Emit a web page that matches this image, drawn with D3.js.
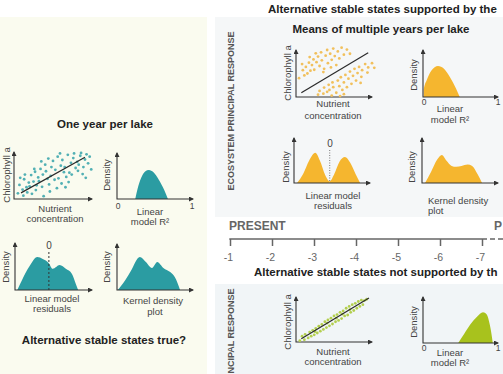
<!DOCTYPE html>
<html>
<head>
<meta charset="utf-8">
<script src="https://cdn.jsdelivr.net/npm/d3@7"></script>
<style>
  body { margin: 0; background: #fff; }
  svg { display: block; font-family: "Liberation Sans", Arial, sans-serif; }
</style>
</head>
<body>
<svg id="chart" width="503" height="374"></svg>
<script>
//Dati letti a occhio dalla figura (unita' relative agli assi, 0-1)
const oneYearPts = [
  [0.05,0.12],[0.07,0.30],[0.11,0.20],[0.13,0.42],[0.12,0.07],[0.16,0.25],[0.19,0.35],[0.17,0.14],
  [0.22,0.51],[0.20,0.27],[0.25,0.37],[0.23,0.11],[0.27,0.58],[0.29,0.29],[0.31,0.46],[0.28,0.19],
  [0.34,0.64],[0.32,0.38],[0.37,0.52],[0.38,0.06],[0.36,0.26],[0.40,0.73],[0.43,0.43],[0.41,0.59],
  [0.45,0.31],[0.46,0.16],[0.48,0.68],[0.47,0.49],[0.52,0.41],[0.50,0.81],[0.55,0.23],[0.53,0.62],
  [0.57,0.44],[0.56,0.90],[0.60,0.71],[0.61,0.33],[0.64,0.57],[0.62,0.83],[0.67,0.47],[0.65,0.68],
  [0.69,0.94],[0.70,0.36],[0.73,0.77],[0.71,0.56],[0.76,0.87],[0.74,0.52],[0.79,0.66],[0.77,0.97],
  [0.81,0.79],[0.82,0.60],[0.85,0.92],[0.83,0.73],[0.88,0.53],[0.86,0.98],[0.91,0.84],[0.89,0.68],
  [0.93,0.95],[0.95,0.76],[0.97,0.90],[0.99,0.63],[0.59,0.97],[0.44,0.86],[0.26,0.64],[0.14,0.52],
  [0.08,0.45],[0.35,0.80],[0.66,0.25],[0.92,0.45]
];
const oneYearLine = [[0.09,0.13],[0.91,0.89]];
const oneYearR2 = [[0.24,0],[0.27,0.22],[0.32,0.47],[0.37,0.6],[0.42,0.63],[0.48,0.58],[0.55,0.42],[0.62,0.2],[0.67,0]];
const oneYearResid = [[0.03,0],[0.09,0.21],[0.19,0.51],[0.29,0.70],[0.36,0.66],[0.44,0.57],[0.49,0.45],
  [0.58,0.53],[0.66,0.45],[0.74,0.34],[0.79,0.13],[0.82,0]];
const oneYearKde = [[0.01,0],[0.11,0.22],[0.18,0.41],[0.30,0.72],[0.38,0.61],[0.46,0.48],[0.53,0.61],
  [0.61,0.48],[0.70,0.39],[0.76,0.28],[0.83,0]];
const oneYearZero = 0.44;

const meansHigh = [
  [0.04,0.40],[0.09,0.57],[0.11,0.46],[0.13,0.64],[0.15,0.50],[0.17,0.73],[0.19,0.56],[0.21,0.68],
  [0.23,0.80],[0.24,0.58],[0.27,0.74],[0.29,0.86],[0.31,0.66],[0.33,0.95],[0.34,0.78],[0.37,0.60],
  [0.39,0.88],[0.41,1.00],[0.42,0.72],[0.45,0.92],[0.47,0.79],[0.49,1.03],[0.51,0.87],[0.53,0.68],
  [0.55,0.97],[0.57,0.82],[0.60,1.05],[0.63,0.90],[0.67,1.01],[0.71,0.92],[0.26,0.93],[0.36,0.53],
  [0.46,0.63],[0.18,0.85],[0.08,0.70]
];
const meansLow = [
  [0.29,0.05],[0.31,0.13],[0.36,0.07],[0.37,0.20],[0.41,0.11],[0.43,0.26],[0.44,0.15],[0.48,0.31],
  [0.49,0.21],[0.53,0.09],[0.55,0.35],[0.57,0.23],[0.59,0.42],[0.61,0.15],[0.63,0.31],[0.65,0.47],
  [0.67,0.21],[0.69,0.39],[0.71,0.54],[0.73,0.28],[0.75,0.45],[0.77,0.60],[0.79,0.35],[0.81,0.51],
  [0.83,0.64],[0.86,0.43],[0.87,0.57],[0.91,0.70],[0.94,0.52],[0.95,0.63],[1.00,0.72],[1.03,0.62],
  [0.47,0.03],[0.63,0.06],[0.85,0.30],[0.58,0.02]
];
const meansLine = [[0.07,0.09],[0.95,0.94]];
const meansR2 = [[0.01,0],[0.01,0.16],[0.05,0.36],[0.11,0.56],[0.2,0.66],[0.28,0.6],[0.36,0.42],[0.44,0.18],[0.49,0]];
const meansResid = [[0.04,0],[0.12,0.2],[0.2,0.5],[0.28,0.67],[0.34,0.5],[0.41,0.18],[0.47,0.04],
  [0.53,0.2],[0.6,0.48],[0.67,0.58],[0.74,0.45],[0.81,0.2],[0.87,0]];
const meansKde = [[0.04,0],[0.12,0.25],[0.2,0.52],[0.26,0.62],[0.32,0.5],[0.39,0.38],[0.45,0.36],
  [0.52,0.38],[0.6,0.41],[0.66,0.38],[0.73,0.2],[0.79,0]];
const meansZero = 0.47;

const multiPts = [
  [0.05,0.03],[0.08,0.13],[0.11,0.05],[0.12,0.17],[0.16,0.09],[0.18,0.22],[0.20,0.13],[0.22,0.26],
  [0.24,0.16],[0.26,0.30],[0.28,0.20],[0.30,0.35],[0.32,0.24],[0.34,0.39],[0.36,0.28],[0.38,0.45],
  [0.40,0.32],[0.42,0.49],[0.44,0.36],[0.46,0.53],[0.48,0.40],[0.50,0.58],[0.52,0.45],[0.54,0.61],
  [0.56,0.48],[0.58,0.66],[0.60,0.52],[0.62,0.69],[0.64,0.58],[0.66,0.75],[0.68,0.60],[0.70,0.79],
  [0.72,0.66],[0.74,0.83],[0.76,0.70],[0.78,0.86],[0.80,0.75],[0.82,0.90],[0.84,0.79],[0.86,0.93],
  [0.88,0.83],[0.90,0.92],[0.93,0.95],[0.41,0.42],[0.61,0.62],[0.25,0.23],[0.53,0.53],[0.71,0.72]
];
const multiLine = [[0.07,0.07],[0.96,0.98]];
const multiR2 = [[0.47,0],[0.55,0.2],[0.63,0.4],[0.72,0.57],[0.8,0.67],[0.85,0.62],[0.89,0.4],[0.92,0.12],[0.93,0]];

const timeTicks = [-1, -2, -3, -4, -5, -6, -7];

const TEAL = "#2b9ca2", ORANGE = "#f5b62f", GREEN = "#a8c21d";

const svg = d3.select("#chart");

//sfondi dei pannelli
svg.append("rect").attr("x", 0).attr("y", 17).attr("width", 207).attr("height", 357).attr("fill", "#fafbef");
svg.append("rect").attr("x", 215).attr("y", 17).attr("width", 288).attr("height", 200).attr("fill", "#f5f7f8");
svg.append("rect").attr("x", 215).attr("y", 284).attr("width", 288).attr("height", 90).attr("fill", "#f1f5f7");

svg.append("defs").append("marker")
  .attr("id", "arr")
  .attr("viewBox", "0 0 10 10")
  .attr("refX", 8).attr("refY", 5)
  .attr("markerWidth", 5).attr("markerHeight", 5)
  .attr("markerUnits", "userSpaceOnUse")
  .attr("orient", "auto-start-reverse")
  .append("path").attr("d", "M0,0L10,5L0,10z").attr("fill", "#333");

function label(x, y, txt, opts = {}) {
  const t = svg.append("text")
    .attr("x", x).attr("y", y)
    .attr("text-anchor", opts.anchor || "middle")
    .attr("font-size", (opts.size || 9.5) + "px")
    .attr("font-weight", opts.bold ? "bold" : "normal")
    .attr("fill", opts.fill || "#444")
    .text(txt);
  if (opts.rot) t.attr("transform", `rotate(-90, ${x}, ${y})`);
  return t;
}

function frame(ox, oy, w, h) {
  const x = d3.scaleLinear().domain([0, 1]).range([ox, ox + w]);
  const y = d3.scaleLinear().domain([0, 1]).range([oy, oy - h]);
  const g = svg.append("g");
  g.append("path")
    .attr("d", `M${ox},${oy - h}V${oy}H${ox + w}`)
    .attr("fill", "none").attr("stroke", "#333").attr("stroke-width", 1.1)
    .attr("marker-start", "url(#arr)").attr("marker-end", "url(#arr)");
  return { x, y, g, oy };
}

function density(f, curve, color) {
  const area = d3.area()
    .x(d => f.x(d[0])).y0(f.oy).y1(d => f.y(d[1]))
    .curve(d3.curveMonotoneX);
  f.g.insert("path", ":first-child").datum(curve).attr("d", area).attr("fill", color);
}

function scatter(f, pts, line, color) {
  f.g.selectAll("circle.pt")
    .data(pts).join("circle")
    .attr("class", "pt")
    .attr("cx", d => f.x(d[0])).attr("cy", d => f.y(d[1]))
    .attr("r", 1.4).attr("fill", color);
  f.g.append("line")
    .attr("x1", f.x(line[0][0])).attr("y1", f.y(line[0][1]))
    .attr("x2", f.x(line[1][0])).attr("y2", f.y(line[1][1]))
    .attr("stroke", "#2a2a2a").attr("stroke-width", 1.2);
}

function zeroLine(f, v, top, dash, col) {
  f.g.append("line")
    .attr("x1", f.x(v)).attr("x2", f.x(v))
    .attr("y1", top).attr("y2", f.oy)
    .attr("stroke", col).attr("stroke-width", 1).attr("stroke-dasharray", dash);
}

// ---- pannello sinistro: un anno per lago ----
label(105, 128, "One year per lake", { size: 11.5, bold: true, fill: "#222" });

let f = frame(14, 199, 78, 47);
scatter(f, oneYearPts, oneYearLine, "#52b0b4");
label(10, 175, "Chlorophyll a", { rot: true });
label(55, 212, "Nutrient");
label(55, 222, "concentration");

f = frame(117, 199, 76, 46);
density(f, oneYearR2, TEAL);
label(110, 175, "Density", { rot: true });
label(118, 209, "0", { size: 8.5 });
label(192, 209, "1", { size: 8.5 });
label(150, 215, "Linear");
label(150, 225, "model R²");

f = frame(15, 290, 77, 47);
density(f, oneYearResid, TEAL);
zeroLine(f, oneYearZero, 252, "2,2", "#333");
label(49, 249, "0", { size: 10 });
label(9, 267, "Density", { rot: true });
label(52, 302, "Linear model");
label(52, 312, "residuals");

f = frame(117, 290, 76, 46);
density(f, oneYearKde, TEAL);
label(110, 267, "Density", { rot: true });
label(153, 304, "Kernel density");
label(155, 315, "plot");

label(104, 344, "Alternative stable states true?", { size: 11.5, bold: true, fill: "#222" });

// ---- pannello destro in alto ----
label(268, 13, "Alternative stable states supported by the", { anchor: "start", size: 11.5, bold: true, fill: "#222" });
label(381, 33, "Means of multiple years per lake", { size: 11.5, bold: true, fill: "#222" });
label(233.5, 111, "ECOSYSTEM PRINCIPAL RESPONSE", { rot: true, size: 9, bold: true, fill: "#555" });

f = frame(296, 97, 76, 47);
scatter(f, meansHigh.concat(meansLow), meansLine, "#f1c05c");
label(291, 73, "Chlorophyll a", { rot: true });
label(333, 107, "Nutrient");
label(333, 119, "concentration");

f = frame(423, 97, 75, 47);
density(f, meansR2, ORANGE);
label(417, 75, "Density", { rot: true });
label(424, 105, "0", { size: 8.5 });
label(498, 105, "1", { size: 8.5 });
label(450, 112, "Linear");
label(450, 123, "model R²");

f = frame(294, 183, 76, 45);
density(f, meansResid, ORANGE);
zeroLine(f, meansZero, 150, "1,1.5", "#777");
label(330, 147, "0", { size: 10 });
label(289, 167, "Density", { rot: true });
label(333, 199, "Linear model");
label(333, 209, "residuals");

f = frame(422, 183, 76, 45);
density(f, meansKde, ORANGE);
label(415, 167, "Density", { rot: true });
label(428, 204, "Kernel density", { anchor: "start" });
label(428, 214, "plot", { anchor: "start" });

// ---- linea del tempo ----
label(229, 230, "PRESENT", { anchor: "start", size: 12, bold: true, fill: "#666" });
label(494, 230, "P", { anchor: "start", size: 12, bold: true, fill: "#666" });

const t = d3.scaleLinear().domain([-1, -7]).range([230, 482]);
const tAxis = svg.append("g")
  .attr("transform", "translate(0,239)")
  .call(d3.axisBottom(t).tickValues(timeTicks).tickSize(7).tickSizeOuter(0).tickPadding(8)
    .tickFormat(d => String(d)));
tAxis.select(".domain").remove();
tAxis.selectAll(".tick line").attr("stroke", "#666").attr("stroke-width", 1.5);
tAxis.selectAll(".tick text")
  .attr("fill", "#666").attr("font-size", "10.5px")
  .attr("font-family", "Liberation Sans, Arial, sans-serif")
  .attr("dx", "-2");
svg.append("line").attr("x1", 229.3).attr("x2", 487).attr("y1", 239).attr("y2", 239)
  .attr("stroke", "#666").attr("stroke-width", 1.5);
svg.append("line").attr("x1", 490).attr("x2", 503).attr("y1", 239).attr("y2", 239)
  .attr("stroke", "#666").attr("stroke-width", 1.5).attr("stroke-dasharray", "5,3");

// ---- pannello destro in basso ----
label(254, 275.5, "Alternative stable states not supported by th", { anchor: "start", size: 11.5, bold: true, fill: "#222" });
//il titolo ruotato e' tagliato dal bordo inferiore come nell'originale
label(233.5, 368, "ECOSYSTEM PRINCIPAL RESPONSE", { rot: true, size: 9, bold: true, fill: "#555" });

f = frame(296, 342, 76, 45);
scatter(f, multiPts, multiLine, "#b3cf4e");
label(291, 322, "Chlorophyll a", { rot: true });
label(333, 355, "Nutrient");
label(333, 365, "concentration");

f = frame(423, 343, 75, 46);
density(f, multiR2, GREEN);
label(417, 322, "Density", { rot: true });
label(424, 351, "0", { size: 8.5 });
label(498, 351, "1", { size: 8.5 });
label(450, 356, "Linear");
label(450, 366, "model R²");
</script>
</body>
</html>
